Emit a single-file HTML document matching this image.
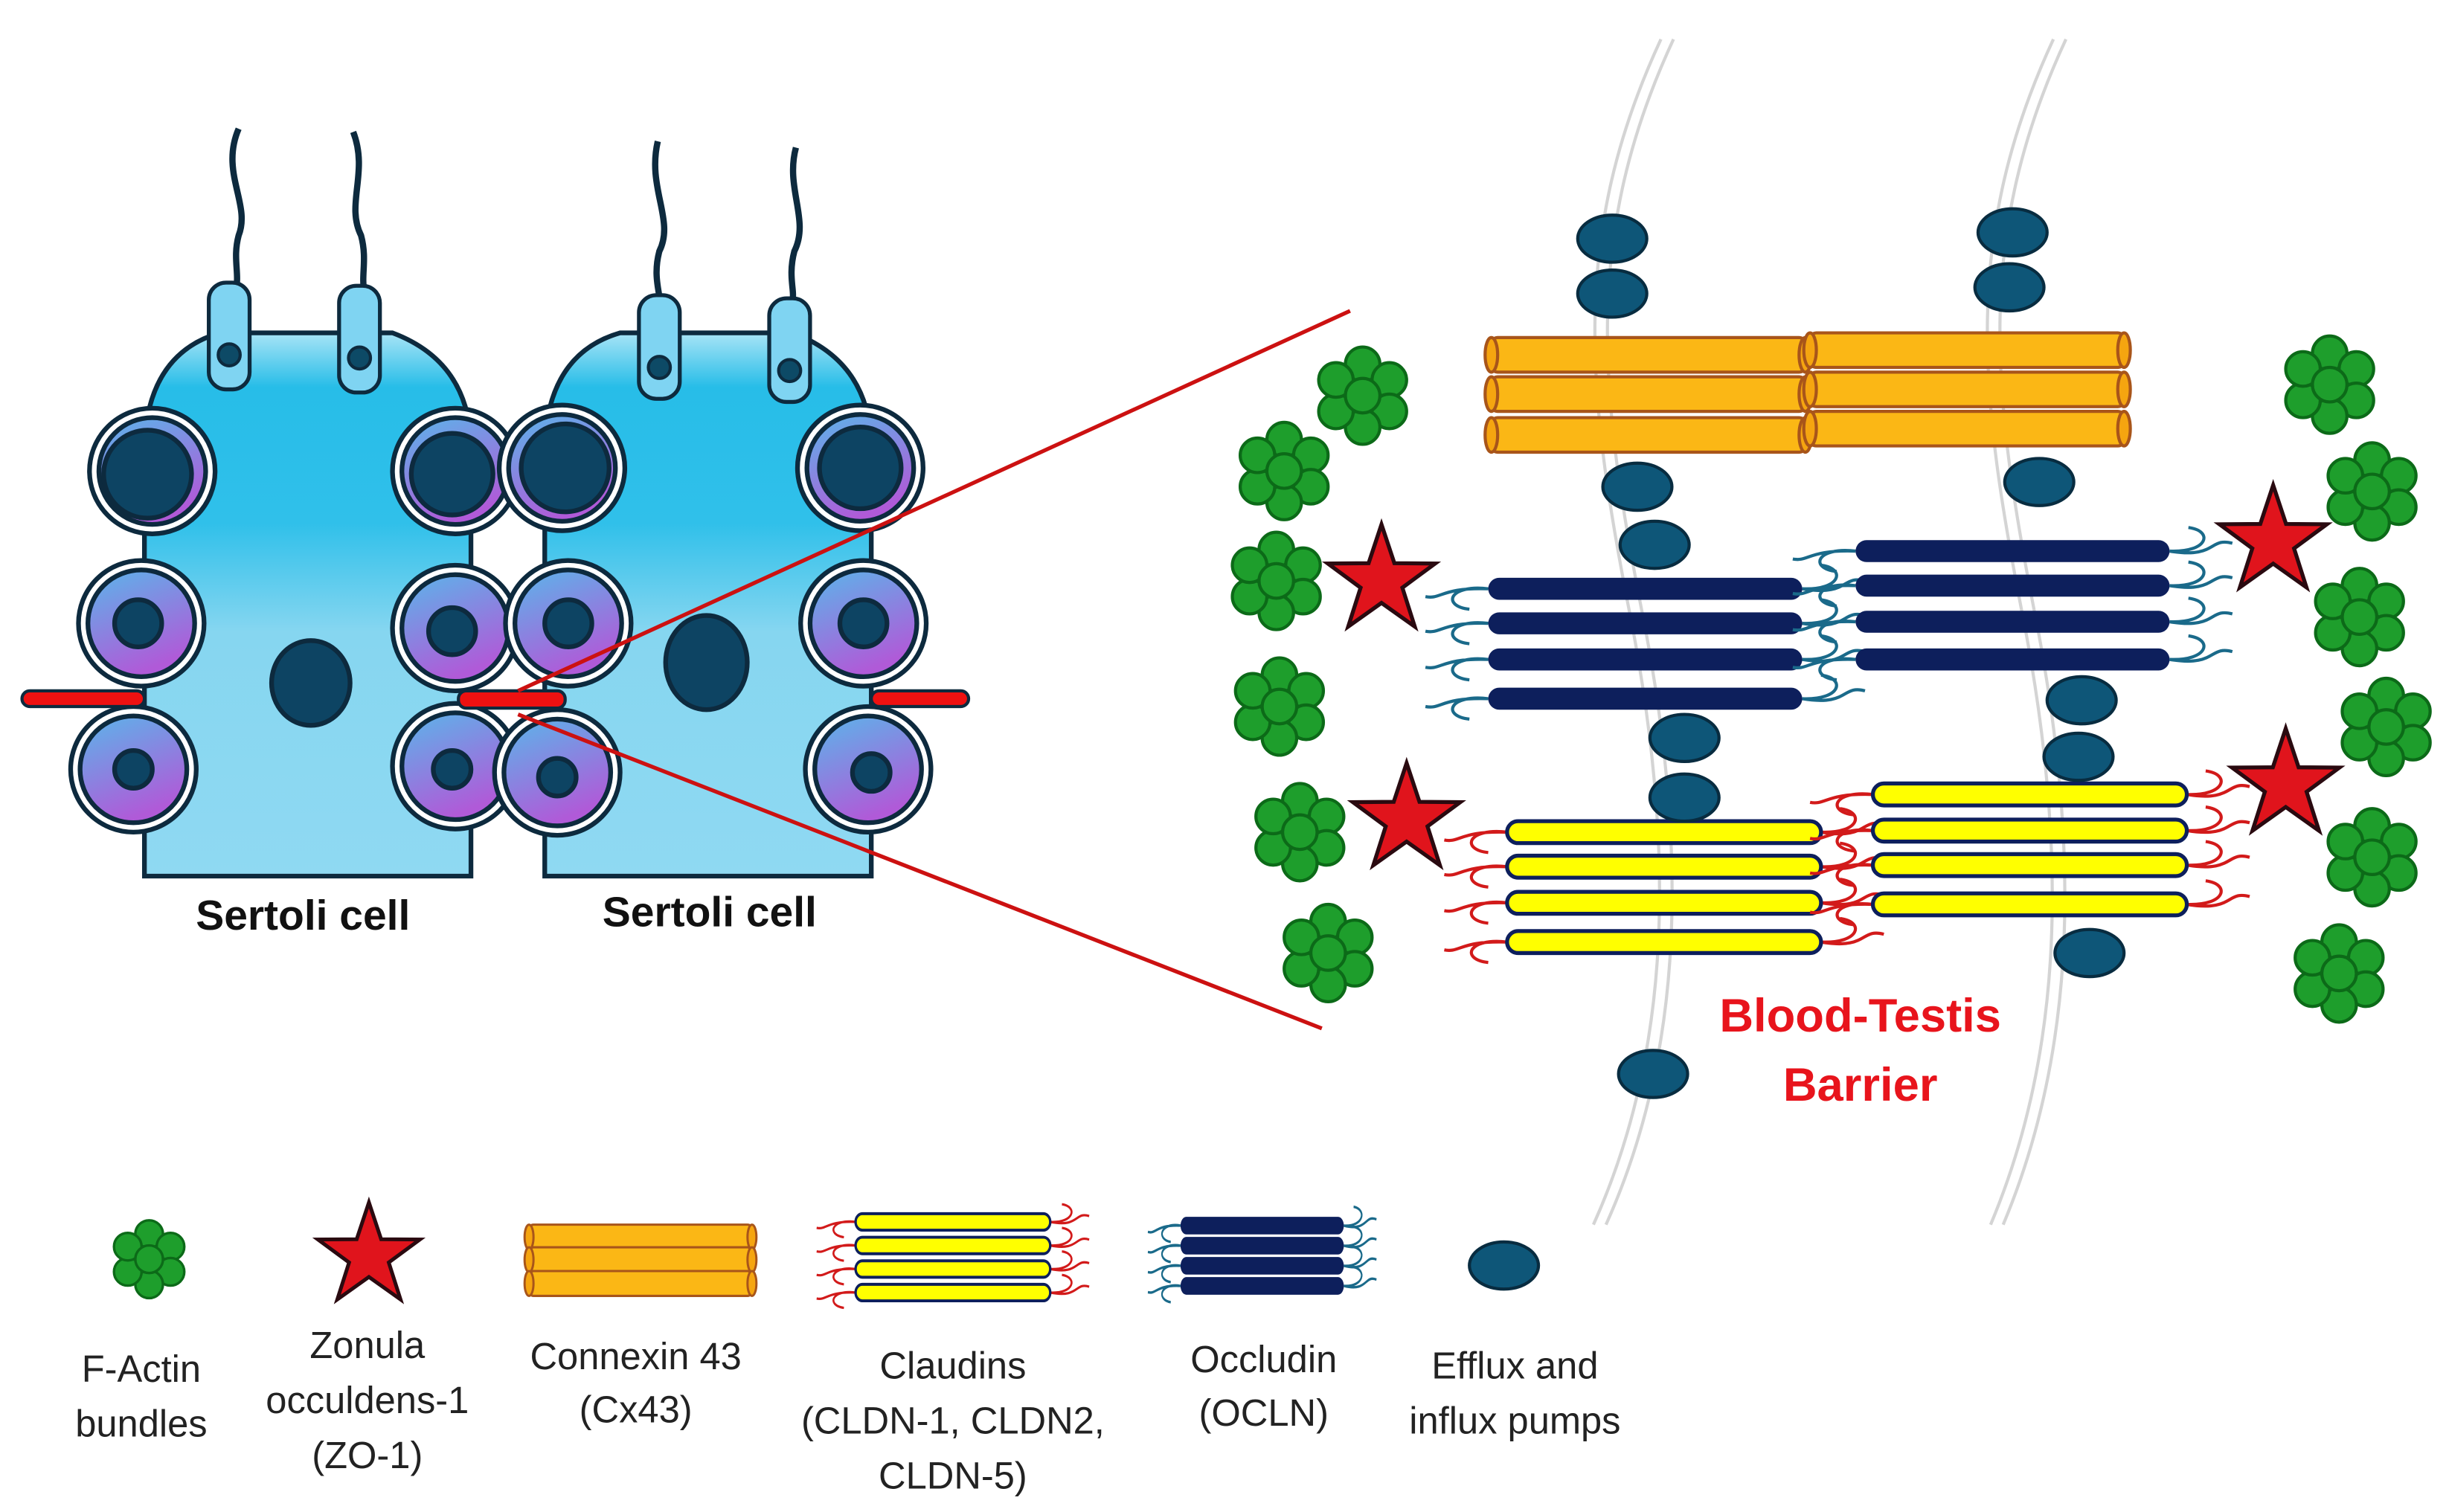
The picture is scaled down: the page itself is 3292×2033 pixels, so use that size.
<!DOCTYPE html>
<html><head><meta charset="utf-8"><style>
html,body{margin:0;padding:0;background:#fff;}
svg{display:block;}
text{font-family:"Liberation Sans",sans-serif;}
</style></head><body>
<svg width="3292" height="2033" viewBox="0 0 1560 963" preserveAspectRatio="none" xmlns="http://www.w3.org/2000/svg">
<defs>
<linearGradient id="cell" x1="0" y1="0" x2="0" y2="1">
<stop offset="0" stop-color="#a8e4f6"/><stop offset="0.1" stop-color="#27bde8"/><stop offset="0.35" stop-color="#30c0ea"/><stop offset="0.55" stop-color="#86d6f0"/><stop offset="1" stop-color="#8fd9f2"/></linearGradient>
<linearGradient id="germ" x1="0" y1="0" x2="0.4" y2="1">
<stop offset="0" stop-color="#5ab6ea"/><stop offset="1" stop-color="#b05ad8"/></linearGradient>
<g id="germc"><circle r="40" fill="#fff" stroke="#0d2a3e" stroke-width="3"/><circle r="34" fill="url(#germ)" stroke="#0d2a3e" stroke-width="3"/></g>
<g id="star"><polygon points="0,-36 8.2,-11.3 34.2,-11.1 13.3,4.3 21.2,29.1 0,14 -21.2,29.1 -13.3,4.3 -34.2,-11.1 -8.2,-11.3" fill="#e0141c" stroke="#2a0a10" stroke-width="2.5"/></g>
<g id="actin" fill="#1e9e2c" stroke="#0c6a18" stroke-width="2">
<circle cx="0" cy="-20" r="11"/><circle cx="17" cy="-10" r="11"/><circle cx="17" cy="10" r="11"/><circle cx="0" cy="20" r="11"/><circle cx="-17" cy="10" r="11"/><circle cx="-17" cy="-10" r="11"/><circle cx="0" cy="0" r="11"/></g>
<ellipse id="pump" rx="22" ry="15" fill="#0e5678" stroke="#082c40" stroke-width="2"/>
<g id="cyl"><rect x="0" y="0" width="200" height="22" rx="4" fill="#fbb715" stroke="#a8551a" stroke-width="2"/><ellipse cx="200" cy="11" rx="4" ry="11" fill="#f5a510" stroke="#a8551a" stroke-width="2"/><ellipse cx="0" cy="11" rx="4" ry="11" fill="#f5a510" stroke="#a8551a" stroke-width="2"/></g>
<g id="occ"><path d="M0,7 C-25,4 -30,18 -12,20 M0,7 C-30,6 -30,14 -40,12" fill="none" stroke="#1a6a8a" stroke-width="2"/><path d="M200,7 C225,8 228,-6 212,-8 M200,7 C230,12 225,-2 240,2" fill="none" stroke="#1a6a8a" stroke-width="2"/><rect x="0" y="0" width="200" height="14" rx="7" fill="#0d1f5c"/></g>
<g id="cld"><path d="M0,7 C-25,4 -30,18 -12,20 M0,7 C-30,6 -30,14 -40,12" fill="none" stroke="#d21a1a" stroke-width="2"/><path d="M200,7 C225,8 228,-6 212,-8 M200,7 C230,12 225,-2 240,2" fill="none" stroke="#d21a1a" stroke-width="2"/><rect x="0" y="0" width="200" height="14" rx="7" fill="#ffff00" stroke="#0d1f5c" stroke-width="2.5"/></g>
</defs>

<g fill="none" stroke="#d4d4d4" stroke-width="2">
<path d="M1058,25 C1000,150 1010,250 1040,400 C1070,560 1060,680 1015,780"/>
<path d="M1066,25 C1008,150 1018,250 1048,400 C1078,560 1068,680 1023,780"/>
<path d="M1308,25 C1250,150 1260,250 1290,400 C1320,560 1310,680 1268,780"/>
<path d="M1316,25 C1258,150 1268,250 1298,400 C1328,560 1318,680 1276,780"/>
</g>

<g fill="none" stroke="#0d2a3e" stroke-width="4">
<path d="M152,82 C140,110 160,130 152,150 C148,165 153,175 150,185"/>
<path d="M225,84 C235,110 220,130 230,150 C234,165 230,175 232,185"/>
<path d="M419,90 C412,120 430,140 420,160 C416,175 420,185 420,190"/>
<path d="M507,94 C500,120 516,140 506,160 C502,175 506,185 505,190"/>
</g>

<path d="M140,212 L250,212 Q298,230 300,282 L300,558 L92,558 L92,282 Q95,225 140,212 Z" fill="url(#cell)" stroke="#0d2a3e" stroke-width="3"/>
<path d="M395,212 L505,212 Q553,230 555,282 L555,558 L347,558 L347,282 Q350,225 395,212 Z" fill="url(#cell)" stroke="#0d2a3e" stroke-width="3"/>

<g fill="#7fd4f2" stroke="#0d2a3e" stroke-width="2.5">
<rect x="133" y="180" width="26" height="68" rx="11"/><rect x="216" y="182" width="26" height="68" rx="11"/>
<rect x="407" y="188" width="26" height="66" rx="11"/><rect x="490" y="190" width="26" height="66" rx="11"/>
</g>
<g fill="#0d4a66" stroke="#0d2a3e" stroke-width="2"><circle cx="146" cy="226" r="7"/><circle cx="229" cy="228" r="7"/><circle cx="420" cy="234" r="7"/><circle cx="503" cy="236" r="7"/></g>

<use href="#germc" x="97" y="300"/><use href="#germc" x="290" y="300"/><use href="#germc" x="90" y="397"/><use href="#germc" x="290" y="400"/><use href="#germc" x="85" y="490"/><use href="#germc" x="290" y="488"/>
<use href="#germc" x="358" y="298"/><use href="#germc" x="548" y="298"/><use href="#germc" x="362" y="397"/><use href="#germc" x="550" y="397"/><use href="#germc" x="355" y="492"/><use href="#germc" x="553" y="490"/>
<g fill="#0d4463" stroke="#0d2a3e" stroke-width="3">
<circle cx="94" cy="302" r="28"/><circle cx="288" cy="302" r="26"/><circle cx="88" cy="397" r="15"/><circle cx="288" cy="402" r="15"/><circle cx="85" cy="490" r="12"/><circle cx="288" cy="490" r="12"/>
<circle cx="360" cy="298" r="28"/><circle cx="548" cy="298" r="26"/><circle cx="362" cy="397" r="15"/><circle cx="550" cy="397" r="15"/><circle cx="355" cy="495" r="12"/><circle cx="555" cy="492" r="12"/>
<ellipse cx="198" cy="435" rx="25" ry="27"/><ellipse cx="450" cy="422" rx="26" ry="30"/>
</g>

<g fill="#ee1111" stroke="#0d2a3e" stroke-width="2">
<rect x="14" y="440" width="78" height="10" rx="5"/><rect x="292" y="440" width="68" height="11" rx="5"/><rect x="555" y="440" width="62" height="10" rx="5"/>
</g>
<g stroke="#cc1111" stroke-width="2.5"><line x1="330" y1="440" x2="860" y2="198"/><line x1="330" y1="455" x2="842" y2="655"/></g>

<text x="193" y="592" font-size="27" font-weight="bold" text-anchor="middle" fill="#111">Sertoli cell</text>
<text x="452" y="590" font-size="27" font-weight="bold" text-anchor="middle" fill="#111">Sertoli cell</text>

<use href="#cyl" x="950" y="215"/><use href="#cyl" x="950" y="240"/><use href="#cyl" x="950" y="266"/>
<use href="#cyl" x="1153" y="212"/><use href="#cyl" x="1153" y="237"/><use href="#cyl" x="1153" y="262"/>
<use href="#occ" x="948" y="368"/><use href="#occ" x="948" y="390"/><use href="#occ" x="948" y="413"/><use href="#occ" x="948" y="438"/>
<use href="#occ" x="1182" y="344"/><use href="#occ" x="1182" y="366"/><use href="#occ" x="1182" y="389"/><use href="#occ" x="1182" y="413"/>
<use href="#cld" x="960" y="523"/><use href="#cld" x="960" y="545"/><use href="#cld" x="960" y="568"/><use href="#cld" x="960" y="593"/>
<use href="#cld" x="1193" y="499"/><use href="#cld" x="1193" y="522"/><use href="#cld" x="1193" y="544"/><use href="#cld" x="1193" y="569"/>

<use href="#pump" x="1027" y="152"/><use href="#pump" x="1027" y="187"/><use href="#pump" x="1282" y="148"/><use href="#pump" x="1280" y="183"/>
<use href="#pump" x="1043" y="310"/><use href="#pump" x="1054" y="347"/><use href="#pump" x="1299" y="307"/><use href="#pump" x="1326" y="446"/>
<use href="#pump" x="1073" y="470"/><use href="#pump" x="1073" y="508"/><use href="#pump" x="1324" y="482"/><use href="#pump" x="1331" y="607"/><use href="#pump" x="1053" y="684"/>

<use href="#star" x="880" y="370"/><use href="#star" x="1448" y="345"/><use href="#star" x="896" y="522"/><use href="#star" x="1456" y="500"/>
<use href="#actin" x="868" y="252"/><use href="#actin" x="818" y="300"/><use href="#actin" x="813" y="370"/><use href="#actin" x="815" y="450"/><use href="#actin" x="828" y="530"/><use href="#actin" x="846" y="607"/>
<use href="#actin" x="1484" y="245"/><use href="#actin" x="1511" y="313"/><use href="#actin" x="1503" y="393"/><use href="#actin" x="1520" y="463"/><use href="#actin" x="1511" y="546"/><use href="#actin" x="1490" y="620"/>

<text x="1185" y="657" font-size="30" font-weight="bold" text-anchor="middle" fill="#e8141c">Blood-Testis</text>
<text x="1185" y="701" font-size="30" font-weight="bold" text-anchor="middle" fill="#e8141c">Barrier</text>

<use href="#actin" x="95" y="802" transform="translate(95 802) scale(0.8) translate(-95 -802)"/>
<use href="#star" x="235" y="800" transform="translate(235 800) scale(0.95) translate(-235 -800)"/>
<g transform="translate(337 780) scale(0.71,0.72)"><use href="#cyl" x="0" y="0"/><use href="#cyl" x="0" y="20"/><use href="#cyl" x="0" y="41"/></g>
<g transform="translate(545 773) scale(0.62,0.75)"><use href="#cld" x="0" y="0"/><use href="#cld" x="0" y="20"/><use href="#cld" x="0" y="40"/><use href="#cld" x="0" y="60"/></g>
<g transform="translate(752 775) scale(0.52,0.8)"><use href="#occ" x="0" y="0"/><use href="#occ" x="0" y="16"/><use href="#occ" x="0" y="32"/><use href="#occ" x="0" y="48"/></g>
<use href="#pump" x="958" y="806"/>

<g font-size="24" text-anchor="middle" fill="#222">
<text x="90" y="880">F-Actin</text><text x="90" y="915">bundles</text>
<text x="234" y="865">Zonula</text><text x="234" y="900">occuldens-1</text><text x="234" y="935">(ZO-1)</text>
<text x="405" y="872">Connexin 43</text><text x="405" y="906">(Cx43)</text>
<text x="607" y="878">Claudins</text><text x="607" y="913">(CLDN-1, CLDN2,</text><text x="607" y="948">CLDN-5)</text>
<text x="805" y="874">Occludin</text><text x="805" y="908">(OCLN)</text>
<text x="965" y="878">Efflux and</text><text x="965" y="913">influx pumps</text>
</g>
</svg>
</body></html>
